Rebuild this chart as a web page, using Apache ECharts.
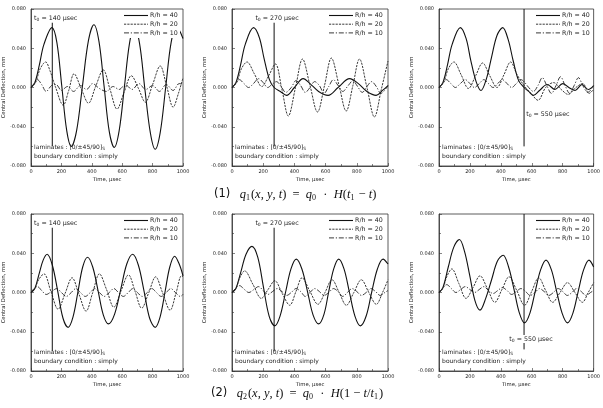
<!DOCTYPE html>
<html>
<head>
<meta charset="utf-8">
<script src="https://cdn.jsdelivr.net/npm/echarts@6/dist/echarts.min.js"></script>
<style>
  html, body { margin: 0; padding: 0; background: #fff; }
  #chart { width: 603px; height: 408px; }
</style>
</head>
<body>
<div id="chart"></div>
<script>
const seriesNames = ["R/h = 40", "R/h = 20", "R/h = 10"];
const pulseTimes = [140, 270, 550, 140, 270, 550];
const timeRange = [0, 1000];
const deflectionRange = [-0.08, 0.08];

// (1) q1 = q0 H(t1 - t)
const p1_rh40 = [[0,0],[25,0.005],[55,0.023],[85,0.044],[138,0.061],[170,0.046],[202,0.002],[235,-0.044],[265,-0.060],[300,-0.044],[338,0.001],[378,0.048],[414,0.064],[447,0.047],[481,0.001],[515,-0.045],[548,-0.061],[580,-0.044],[614,0],[648,0.045],[680,0.062],[714,0.045],[748,0],[785,-0.046],[817,-0.063],[850,-0.046],[886,0],[922,0.046],[957,0.062],[1000,0.050]];
const p1_rh20 = [[0,0],[30,0.005],[60,0.019],[96,0.026],[125,0.017],[160,0.001],[212,-0.018],[248,-0.003],[283,0.014],[330,-0.001],[378,-0.016],[425,0.001],[475,0.018],[520,-0.002],[566,-0.022],[612,-0.005],[660,0.012],[707,-0.001],[752,-0.015],[800,0.003],[850,0.022],[893,0.001],[935,-0.020],[970,-0.006],[1000,0.010]];
const p1_rh10 = [[0,0],[20,0.004],[42,0.008],[70,0.003],[100,-0.004],[135,0.002],[165,0.003],[200,-0.003],[240,0.001],[280,-0.004],[325,0.002],[365,-0.002],[405,0.004],[450,-0.001],[495,-0.004],[540,0.001],[580,-0.002],[620,0.003],[665,-0.002],[710,0.004],[755,-0.002],[800,0.002],[845,-0.004],[890,0.003],[935,-0.003],[975,0.004],[1000,0.003]];

const p2_rh40 = [[0,0],[25,0.005],[55,0.023],[85,0.044],[138,0.061],[175,0.051],[205,0.030],[240,0.008],[270,0],[310,-0.004],[350,-0.008],[400,0],[456,0.009],[500,0.004],[555,-0.004],[616,-0.008],[680,0],[754,0.009],[810,0.004],[865,-0.004],[924,-0.008],[965,-0.003],[1000,0.002]];
const p2_rh20 = [[0,0],[30,0.005],[60,0.019],[96,0.026],[143,0.014],[191,0.001],[235,0.012],[278,0.024],[320,-0.002],[361,-0.029],[407,0],[452,0.029],[500,0.002],[548,-0.025],[593,0.002],[637,0.030],[685,0.003],[732,-0.024],[775,0.002],[817,0.029],[865,0],[913,-0.030],[957,-0.002],[1000,0.027]];
const p2_rh10 = [[0,0],[22,0.004],[47,0.008],[77,0.004],[106,0],[138,0.004],[170,0.009],[200,0.005],[229,0],[255,0.003],[285,0.006],[315,0.001],[345,-0.005],[380,0],[410,0.007],[440,0.002],[470,-0.005],[500,0],[530,0.006],[560,0.002],[590,-0.006],[620,0.001],[650,0.008],[680,0.002],[710,-0.004],[745,0.002],[775,0.007],[805,0.001],[835,-0.005],[865,0.001],[895,0.006],[925,0.001],[955,-0.006],[1000,0.002]];

const p3_rh40 = [[0,0],[25,0.005],[55,0.023],[85,0.044],[138,0.061],[175,0.050],[205,0.028],[240,0.006],[272,-0.003],[305,0.008],[340,0.031],[375,0.053],[412,0.061],[447,0.049],[480,0.027],[515,0.007],[550,0],[580,-0.004],[610,-0.008],[650,-0.003],[700,0.003],[750,-0.002],[800,0.004],[840,0],[880,-0.003],[925,0.003],[965,-0.002],[1000,0.002]];
const p3_rh20 = [[0,0],[30,0.005],[60,0.019],[96,0.026],[143,0.013],[190,-0.001],[237,0.012],[282,0.025],[328,0.012],[375,0],[420,0.013],[463,0.026],[505,0.013],[550,0.002],[595,-0.006],[640,-0.013],[690,0],[740,0.005],[790,-0.002],[835,-0.007],[885,0],[930,0.004],[970,-0.006],[1000,-0.002]];
const p3_rh10 = [[0,0],[22,0.004],[47,0.008],[77,0.004],[106,0],[138,0.004],[170,0.008],[200,0.004],[229,0],[260,0.004],[290,0.008],[320,0.004],[350,0],[380,0.004],[410,0.008],[440,0.004],[470,0],[500,0.004],[530,0.008],[555,0.005],[580,0],[610,-0.004],[640,0.002],[668,0.010],[697,0.002],[727,-0.006],[757,0.002],[786,0.011],[815,0.002],[845,-0.006],[874,0.002],[902,0.010],[930,0.002],[962,-0.005],[1000,0.002]];

// (2) q2 = q0 H(1 - t/t1)
const p4_rh40 = [[0,0],[25,0.004],[55,0.020],[80,0.033],[106,0.039],[140,0.028],[175,0.002],[210,-0.026],[244,-0.0355],[276,-0.025],[308,0],[340,0.026],[372,0.036],[406,0.026],[441,0.002],[476,-0.023],[510,-0.032],[550,-0.022],[590,0.003],[630,0.029],[669,0.039],[706,0.028],[743,0.002],[780,-0.026],[817,-0.0355],[849,-0.025],[881,0],[913,0.026],[945,0.037],[975,0.029],[1000,0.017]];
const p4_rh20 = [[0,0],[25,0.004],[50,0.013],[85,0.019],[131,0.001],[178,-0.017],[224,-0.001],[270,0.015],[316,-0.002],[362,-0.019],[406,0],[450,0.019],[497,0.003],[545,-0.015],[593,0.002],[641,0.018],[685,0.001],[728,-0.016],[775,0],[820,0.016],[865,0],[915,-0.018],[955,0],[990,0.017],[1000,0.016]];
const p4_rh10 = [[0,0],[20,0.004],[42,0.006],[70,0.002],[100,-0.002],[135,0.001],[170,0.004],[200,0],[232,-0.004],[265,0],[295,0.004],[325,0],[357,-0.004],[390,0],[420,0.004],[450,0],[482,-0.004],[515,0],[545,0.004],[575,0],[607,-0.004],[640,0],[670,0.004],[700,0],[732,-0.004],[765,0],[795,0.004],[825,0],[857,-0.004],[890,0],[920,0.004],[950,0],[982,-0.004],[1000,-0.002]];

const p5_rh40 = [[0,0],[25,0.004],[55,0.020],[90,0.039],[128,0.047],[165,0.036],[201,0.006],[238,-0.024],[274,-0.034],[308,-0.024],[343,0],[378,0.024],[412,0.034],[448,0.024],[484,0.001],[520,-0.023],[556,-0.032],[590,-0.022],[620,0.001],[652,0.024],[684,0.034],[718,0.024],[753,0],[788,-0.024],[823,-0.034],[860,-0.024],[895,0],[932,0.024],[968,0.034],[1000,0.029]];
const p5_rh20 = [[0,0],[25,0.004],[50,0.015],[81,0.022],[135,0.008],[188,-0.006],[231,0.003],[274,0.012],[322,-0.001],[370,-0.013],[410,0.001],[449,0.015],[500,0.001],[551,-0.012],[596,0],[641,0.013],[687,0],[733,-0.013],[781,0],[829,0.013],[877,0],[925,-0.012],[965,0],[1000,0.013]];
const p5_rh10 = [[0,0],[22,0.004],[48,0.007],[80,0.003],[108,0],[140,0.003],[170,0.006],[200,0.002],[230,-0.002],[260,0.001],[290,0.004],[320,0.001],[350,-0.003],[380,0],[410,0.004],[440,0.001],[470,-0.004],[500,0],[530,0.004],[560,0.001],[590,-0.003],[620,0],[650,0.004],[680,0.001],[710,-0.004],[740,0],[770,0.004],[800,0.001],[830,-0.003],[860,0],[890,0.004],[920,0.001],[950,-0.003],[980,0],[1000,0.002]];

const p6_rh40 = [[0,0],[25,0.005],[60,0.026],[95,0.046],[132,0.054],[165,0.042],[198,0.018],[232,-0.008],[265,-0.018],[302,-0.006],[340,0.013],[378,0.032],[415,0.038],[450,0.026],[484,0.004],[518,-0.020],[553,-0.031],[588,-0.021],[622,0.001],[657,0.023],[692,0.033],[727,0.023],[761,0.001],[796,-0.021],[831,-0.031],[866,-0.021],[900,0.001],[935,0.023],[970,0.033],[1000,0.026]];
const p6_rh20 = [[0,0],[25,0.004],[50,0.016],[83,0.024],[129,0.009],[175,-0.006],[220,0.005],[265,0.017],[313,0.004],[361,-0.010],[407,0.003],[453,0.016],[503,0.002],[553,-0.013],[599,0.001],[645,0.015],[690,0.002],[735,-0.010],[783,0],[831,0.010],[879,0],[927,-0.010],[965,0],[1000,0.010]];
const p6_rh10 = [[0,0],[22,0.004],[50,0.008],[80,0.004],[110,0],[140,0.003],[170,0.006],[200,0.003],[230,0],[260,0.003],[290,0.006],[320,0.002],[350,-0.001],[380,0.002],[410,0.005],[440,0.002],[470,-0.002],[500,0.001],[530,0.004],[560,0.001],[590,-0.003],[620,0],[650,0.004],[680,0.001],[710,-0.003],[740,0],[770,0.004],[800,0.001],[830,-0.003],[860,0],[890,0.004],[920,0.001],[950,-0.003],[980,0],[1000,0.002]];

const panelCurves = [
  [p1_rh40, p1_rh20, p1_rh10],
  [p2_rh40, p2_rh20, p2_rh10],
  [p3_rh40, p3_rh20, p3_rh10],
  [p4_rh40, p4_rh20, p4_rh10],
  [p5_rh40, p5_rh20, p5_rh10],
  [p6_rh40, p6_rh20, p6_rh10],
];

// vertical t0 marker extent and label spots, in data units
const pulseLineSpans = [[0.066, -0.060], [0.066, -0.060], [0.080, -0.060], [0.066, -0.060], [0.066, -0.060], [0.080, -0.058]];
const pulseLabelSpots = [[20, 0.0705], [150, 0.0705], [564, -0.027], [20, 0.0705], [150, 0.0705], [455, -0.0475]];
const noteSpots = [[20, -0.061], [20, -0.070]];

const FONT = "DejaVu Sans";
const INK = "#222";
const lefts = [27, 232, 439];
const tops = [9, 214];
const W = 156, H = 157;

const lineStyles = [
  { color: "#111", width: 1.1, type: "solid" },
  { color: "#222", width: 0.9, type: [2.2, 1.1] },
  { color: "#222", width: 0.9, type: [5, 1.8, 1.2, 1.8] },
];

const grids = [], xAxes = [], yAxes = [], series = [];

panelCurves.forEach((curves, i) => {
  const left = lefts[i % 3], top = tops[Math.floor(i / 3)];
  grids.push({ left, top, width: W, height: H, show: true, borderColor: "#333", borderWidth: 0.8 });
  xAxes.push({
    gridIndex: i, type: "value", min: timeRange[0], max: timeRange[1], interval: 200,
    axisLine: { onZero: false, lineStyle: { color: "#333", width: 0.8 } },
    axisTick: { inside: true, length: 3, lineStyle: { color: "#333", width: 0.6 } },
    minorTick: { show: true, splitNumber: 2, length: 2, lineStyle: { color: "#333", width: 0.6 } },
    splitLine: { show: false },
    axisLabel: { fontSize: 5, margin: 3, color: INK, fontFamily: FONT, formatter: (v) => String(v) },
    name: "Time, \u03bcsec", nameLocation: "middle", nameGap: 11,
    nameTextStyle: { fontSize: 5.3, color: INK, fontFamily: FONT },
  });
  yAxes.push({
    gridIndex: i, type: "value", min: deflectionRange[0], max: deflectionRange[1], interval: 0.04,
    axisLine: { lineStyle: { color: "#333", width: 0.8 } },
    axisTick: { inside: true, length: 3, lineStyle: { color: "#333", width: 0.6 } },
    minorTick: { show: true, splitNumber: 2, length: 2, lineStyle: { color: "#333", width: 0.6 } },
    splitLine: { show: false },
    axisLabel: { fontSize: 5, margin: 5, color: INK, fontFamily: FONT, formatter: (v) => v.toFixed(3) },
    name: "Central Deflection, mm", nameLocation: "middle", nameGap: 21, nameRotate: 90,
    nameTextStyle: { fontSize: 5.3, color: INK, fontFamily: FONT },
  });
  curves.forEach((data, j) => {
    series.push({
      type: "line", name: seriesNames[j], xAxisIndex: i, yAxisIndex: i, data,
      smooth: 0.35, symbol: "none", silent: true,
      itemStyle: { color: lineStyles[j].color }, lineStyle: lineStyles[j],
    });
  });
  const span = pulseLineSpans[i];
  series.push({
    type: "line", name: "t0", xAxisIndex: i, yAxisIndex: i,
    data: [[pulseTimes[i], span[0]], [pulseTimes[i], span[1]]],
    symbol: "none", silent: true, itemStyle: { color: "#111" }, lineStyle: { color: "#111", width: 1 },
  });
});

const chart = echarts.init(document.getElementById("chart"));
chart.setOption({
  animation: false,
  backgroundColor: "#fff",
  grid: grids, xAxis: xAxes, yAxis: yAxes, series,
});

const smallRich = {
  m: { fontSize: 6.3, fontFamily: FONT, fill: INK, lineHeight: 8, verticalAlign: "middle" },
  s: { fontSize: 4.5, fontFamily: FONT, fill: INK, lineHeight: 8, verticalAlign: "bottom", padding: [3, 0, 0, 0] },
};
const noteRich = {
  m: { fontSize: 6, fontFamily: FONT, fill: INK, lineHeight: 8, verticalAlign: "middle" },
  s: { fontSize: 4.3, fontFamily: FONT, fill: INK, lineHeight: 8, verticalAlign: "bottom", padding: [3, 0, 0, 0] },
};
const mathRich = {
  n: { fontSize: 12.5, fontFamily: "Liberation Serif", fill: "#111", lineHeight: 14 },
  i: { fontSize: 12.5, fontFamily: "Liberation Serif", fontStyle: "italic", fill: "#111", lineHeight: 14 },
  s: { fontSize: 8, fontFamily: "Liberation Serif", fill: "#111", lineHeight: 14, verticalAlign: "bottom", padding: [5, 1, 0, 0] },
  k: { fontSize: 11.5, fontFamily: "DejaVu Sans", fill: "#111", lineHeight: 14 },
};

const graphics = [];
panelCurves.forEach((_, i) => {
  const left = lefts[i % 3], top = tops[Math.floor(i / 3)];
  const right = left + W;
  // legend box is opaque in the original, hiding curve peaks behind it
  graphics.push({
    type: "rect", z: 99, silent: true,
    shape: { x: right - 61, y: top + 1, width: 58, height: 28 },
    style: { fill: "#fff" },
  });
  seriesNames.forEach((name, j) => {
    const y = top + 6.5 + j * 8.7;
    const ls = lineStyles[j];
    graphics.push({
      type: "line", z: 100, silent: true,
      shape: { x1: right - 59, y1: y, x2: right - 35, y2: y },
      style: { stroke: ls.color, lineWidth: ls.width, lineDash: ls.type === "solid" ? null : ls.type },
    });
    graphics.push({
      type: "text", x: right - 33, y, z: 100, silent: true,
      style: { text: name, fontSize: 6.3, fontFamily: FONT, fill: INK, verticalAlign: "middle" },
    });
  });
  const [lx, ly] = chart.convertToPixel({ gridIndex: i }, pulseLabelSpots[i]);
  graphics.push({
    type: "text", x: lx, y: ly, z: 100, silent: true,
    style: {
      text: `{m|t}{s|0}{m| = ${pulseTimes[i]} \u03bcsec}`, rich: smallRich,
      verticalAlign: "middle", backgroundColor: i === 5 ? "#fff" : null,
    },
  });
  const [ax, ay] = chart.convertToPixel({ gridIndex: i }, noteSpots[0]);
  graphics.push({
    type: "text", x: ax, y: ay, z: 100, silent: true,
    style: { text: "{m|laminates : [0/\u00b145/90]}{s|S}", rich: noteRich, verticalAlign: "middle" },
  });
  const [bx, by] = chart.convertToPixel({ gridIndex: i }, noteSpots[1]);
  graphics.push({
    type: "text", x: bx, y: by, z: 100, silent: true,
    style: { text: "{m|boundary condition : simply}", rich: noteRich, verticalAlign: "middle" },
  });
});

graphics.push({
  type: "text", left: 214, top: 188, z: 100,
  style: {
    text: "{k|(1)}{n|   }{i|q}{s|1}{n|(}{i|x}{n|, }{i|y}{n|, }{i|t}{n|)  =  }{i|q}{s|0}{n|  \u00b7  }{i|H}{n|(}{i|t}{s|1}{n| \u2212 }{i|t}{n|)}",
    rich: mathRich,
  },
});
graphics.push({
  type: "text", left: 211, top: 387, z: 100,
  style: {
    text: "{k|(2)}{n|   }{i|q}{s|2}{n|(}{i|x}{n|, }{i|y}{n|, }{i|t}{n|)  =  }{i|q}{s|0}{n|  \u00b7  }{i|H}{n|(1 \u2212 }{i|t}{n|/}{i|t}{s|1}{n|)}",
    rich: mathRich,
  },
});

chart.setOption({ graphic: graphics });
</script>
</body>
</html>
